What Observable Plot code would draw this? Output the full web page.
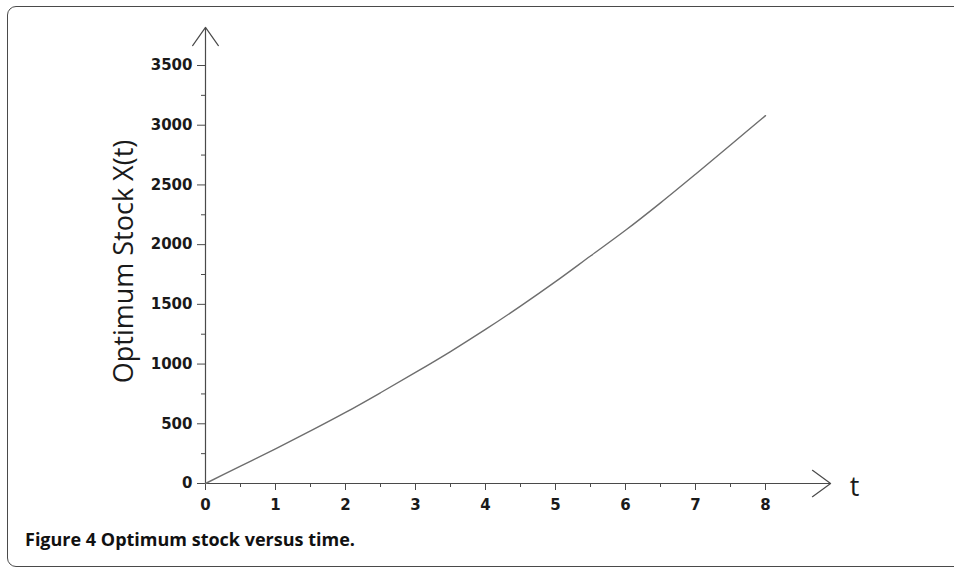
<!DOCTYPE html>
<html>
<head>
<meta charset="utf-8">
<script src="https://cdn.jsdelivr.net/npm/d3@7"></script>
<script src="https://cdn.jsdelivr.net/npm/@observablehq/plot@0.6"></script>
<style>
  html, body { margin: 0; padding: 0; background: #fff; }
  #wrap { position: relative; width: 954px; height: 568px; overflow: hidden; }
  #frame { position: absolute; left: 7px; top: 6px; width: 980px; height: 561px;
           border: 1.5px solid #4a4a4a; border-radius: 9px; box-sizing: border-box; }
  #chart { position: absolute; left: 0; top: 0; }
  #caption { position: absolute; left: 25px; top: 527px; font-family: "Open Sans", sans-serif;
             font-weight: bold; font-size: 18px; color: #111; white-space: nowrap; }
</style>
</head>
<body>
<div id="wrap">
  <div id="frame"></div>
  <div id="chart"></div>
  <div id="caption">Figure 4 Optimum stock versus time.</div>
</div>
<script>
// Data
const time = [0, 0.5, 1, 1.5, 2, 2.5, 3, 3.5, 4, 4.5, 5, 5.5, 6, 6.5, 7, 7.5, 8];
const stock = [0, 145, 290, 440, 595, 760, 930, 1105, 1290, 1485, 1690, 1905, 2120, 2350, 2590, 2835, 3080];

const xTicks = [0, 1, 2, 3, 4, 5, 6, 7, 8];
const xMinorTicks = [0.5, 1.5, 2.5, 3.5, 4.5, 5.5, 6.5, 7.5];
const yTicks = [0, 500, 1000, 1500, 2000, 2500, 3000, 3500];
const yMinorTicks = [250, 750, 1250, 1750, 2250, 2750, 3250];

const xAxisEnd = 8.93;   // where the t-axis arrow ends
const yAxisEnd = 3820;   // where the X(t)-axis arrow ends
const yLabel = "Optimum Stock X(t)";
const xLabel = "t";

const data = time.map((t, i) => ({t, x: stock[i]}));
const axisColor = "#4a4a4a";

const chart = Plot.plot({
  width: 954,
  height: 520,
  marginLeft: 205,
  marginRight: 189,
  marginTop: 65,
  marginBottom: 37,
  style: { fontFamily: "DejaVu Sans", fontWeight: "bold", color: "#1a1a1a", background: "transparent" },
  x: { domain: [0, 8] },
  y: { domain: [0, 3500] },
  marks: [
    Plot.axisX({ ticks: xMinorTicks, tickSize: 4, text: null, stroke: axisColor }),
    Plot.axisX({ ticks: xTicks, tickSize: 7, tickPadding: 9, fontSize: 15, tickFormat: d3.format("d"), label: null, stroke: axisColor }),
    Plot.axisY({ ticks: yMinorTicks, tickSize: 4, text: null, stroke: axisColor }),
    Plot.axisY({ ticks: yTicks, tickSize: 8, tickPadding: 5, fontSize: 15, tickFormat: d3.format("d"), label: null, stroke: axisColor }),
    Plot.arrow([{x1: 0, y1: 0, x2: xAxisEnd, y2: 0}], {
      x1: "x1", y1: "y1", x2: "x2", y2: "y2",
      stroke: axisColor, strokeWidth: 1.2, headLength: 28, headAngle: 72
    }),
    Plot.arrow([{x1: 0, y1: 0, x2: 0, y2: yAxisEnd}], {
      x1: "x1", y1: "y1", x2: "x2", y2: "y2",
      stroke: axisColor, strokeWidth: 1.2, headLength: 28, headAngle: 70
    }),
    Plot.line(data, { x: "t", y: "x", stroke: "#6e6e6e", strokeWidth: 1.4, curve: "monotone-x" }),
    Plot.text([yLabel], {
      frameAnchor: "left", rotate: -90, dx: -73, dy: -13, lineAnchor: "bottom", textAnchor: "middle",
      fontFamily: "Open Sans", fontWeight: "normal", fontSize: 27, fill: "#1a1a1a"
    }),
    Plot.text([xLabel], {
      x: () => xAxisEnd, y: () => 0, dx: 24, dy: 12, lineAnchor: "bottom", textAnchor: "middle",
      fontFamily: "Open Sans", fontWeight: "normal", fontSize: 27, fill: "#1a1a1a"
    })
  ]
});
document.getElementById("chart").appendChild(chart);
</script>
</body>
</html>
